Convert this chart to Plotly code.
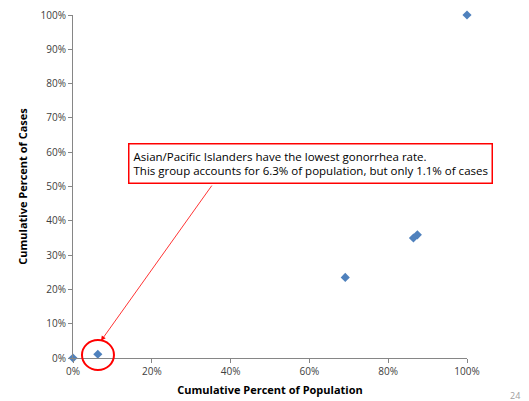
import plotly.graph_objects as go

pop_pct = [0, 6.3, 69.1, 86.4, 87.4, 100]
case_pct = [0, 1.1, 23.5, 35.0, 35.9, 100]
x_ticks = [0, 20, 40, 60, 80, 100]
y_ticks = [0, 10, 20, 30, 40, 50, 60, 70, 80, 90, 100]
note = "Asian/Pacific Islanders have the lowest gonorrhea rate.<br>This group accounts for 6.3% of population, but only 1.1% of cases"

fig = go.Figure()
fig.add_trace(go.Scatter(x=pop_pct, y=case_pct, mode="markers",
                         marker=dict(symbol="diamond", size=7, color="#4F81BD"),
                         cliponaxis=False, showlegend=False))

axis_common = dict(showline=True, linecolor="#868686", linewidth=1, showgrid=False, zeroline=False,
                   ticks="outside", ticklen=4, tickcolor="#868686", automargin=False,
                   tickfont=dict(family="Open Sans, Liberation Sans", size=10, color="#404040"))
fig.update_xaxes(range=[0, 100], tickvals=x_ticks, ticktext=[f"{v}%" for v in x_ticks],
                 title=dict(text="<b>Cumulative Percent of Population</b>", standoff=9,
                            font=dict(family="Open Sans, Liberation Sans", size=11, color="#000")),
                 **axis_common)
fig.update_yaxes(range=[0, 100], tickvals=y_ticks, ticktext=[f"{v}%" for v in y_ticks],
                 title=dict(text="<b>Cumulative Percent of Cases</b>", standoff=10,
                            font=dict(family="Open Sans, Liberation Sans", size=11, color="#000")),
                 **axis_common)

fig.add_shape(type="circle", xref="paper", yref="paper", x0=0.0228, x1=0.104, y0=-0.035, y1=0.0525,
              line=dict(color="#FF0000", width=2))
fig.add_annotation(x=7.1, y=5.0, ax=35.5, ay=50.7, axref="x", ayref="y", xref="x", yref="y",
                   text="", showarrow=True, arrowhead=2, arrowsize=1.2, arrowwidth=0.8, arrowcolor="#FF0000")
fig.add_annotation(x=0.603, y=0.567, xref="paper", yref="paper", text=note, showarrow=False,
                   align="left", bordercolor="#FF0000", borderwidth=1.5, borderpad=4, bgcolor="white",
                   font=dict(family="Open Sans, Liberation Sans", size=11.5, color="#000"))
fig.add_annotation(x=1.14, y=-0.135, xref="paper", yref="paper", text="24", showarrow=False,
                   font=dict(family="Open Sans, Liberation Sans", size=9, color="#A0A0A0"))

fig.update_layout(width=529, height=401, margin=dict(l=73, r=62, t=15, b=43, autoexpand=False),
                  plot_bgcolor="white", paper_bgcolor="white")
fig.write_html("out.html")
